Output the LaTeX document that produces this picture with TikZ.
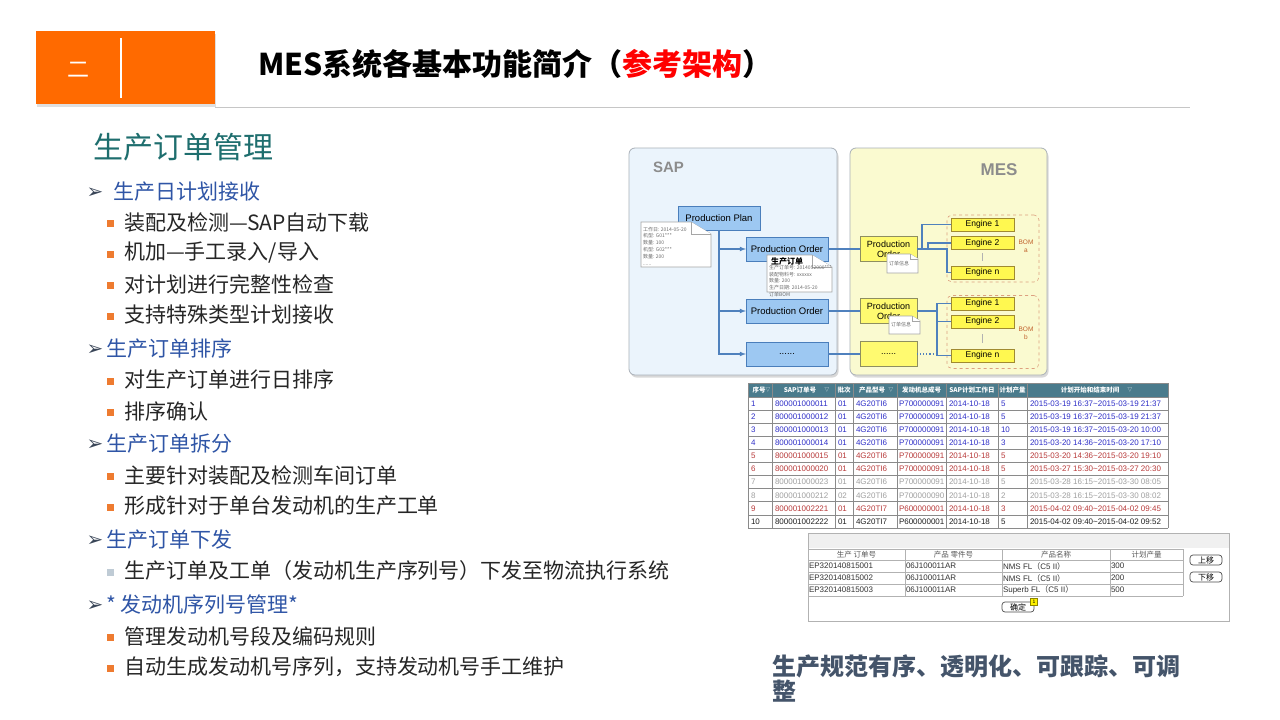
\documentclass[tikz,border=0pt]{standalone}
\usepackage{fontspec}
\setmainfont{Noto Sans CJK SC}
\newfontfamily\cjk{Noto Sans CJK SC}
\newfontfamily\arial{Liberation Sans}
\newfontfamily\dejavu{DejaVu Sans}
\usetikzlibrary{arrows,shapes,positioning,calc,shadows}

\newcommand\fsz[1]{\fontsize{#1}{#1}\selectfont}

\definecolor{hdorange}{HTML}{FF6A00}
\definecolor{titlered}{HTML}{FF0000}
\definecolor{secteal}{HTML}{1E6E6E}
\definecolor{listblue}{HTML}{2F55A6}
\definecolor{bodytxt}{HTML}{262626}
\definecolor{bulor}{HTML}{EE7B30}
\definecolor{bulgr}{HTML}{BFCBD5}
\definecolor{arrowdk}{HTML}{3A4658}
\definecolor{sapfill}{HTML}{EBF4FC}
\definecolor{mesfill}{HTML}{FAFAD0}
\definecolor{boxgray}{HTML}{A9B0B8}
\definecolor{pofill}{HTML}{9DC8F2}
\definecolor{poline}{HTML}{4A7EBB}
\definecolor{mpofill}{HTML}{FFFA70}
\definecolor{mpoline}{HTML}{8E8E60}
\definecolor{engfill}{HTML}{FFF850}
\definecolor{engline}{HTML}{A08A30}
\definecolor{bomline}{HTML}{DDA080}
\definecolor{bomtext}{HTML}{C0602A}
\definecolor{linkblue}{HTML}{4F81BD}
\definecolor{thead}{HTML}{4A7B8C}
\definecolor{tgrid}{HTML}{8A8A8A}
\definecolor{rowblue}{HTML}{3030C8}
\definecolor{rowred}{HTML}{B83A3A}
\definecolor{rowgray}{HTML}{A0A0A0}
\definecolor{rowblack}{HTML}{202020}
\definecolor{botslate}{HTML}{44546A}

\tikzset{
  every node/.style={inner sep=0pt, outer sep=0pt},
  heading/.style={anchor=west, text=listblue, font=\fsz{21}},
  item/.style={anchor=west, text=bodytxt, font=\fsz{21}},
  sqbul/.style={minimum width=7, minimum height=7},
  sapbg/.style={draw=boxgray, fill=sapfill, rounded corners=6, line width=0.8,
    drop shadow={shadow xshift=1.5pt, shadow yshift=-2.5pt, opacity=.3}},
  mesbg/.style={draw=boxgray, fill=mesfill, rounded corners=6, line width=0.8,
    drop shadow={shadow xshift=1.5pt, shadow yshift=-2.5pt, opacity=.3}},
  po/.style={draw=poline, fill=pofill, line width=0.7, minimum width=82, minimum height=24, font=\arial\fsz{9.5}},
  mpo/.style={draw=mpoline, fill=mpofill, line width=0.7, minimum width=57, minimum height=25, align=center, font=\arial\fontsize{9}{10}\selectfont},
  engine/.style={draw=engline, fill=engfill, line width=0.6, minimum width=63, minimum height=13, font=\arial\fsz{8.5}},
  bom/.style={draw=bomline, dashed, rounded corners=5, line width=0.6, minimum width=92},
  bomlbl/.style={text=bomtext, align=center, font=\arial\fontsize{6.5}{8}\selectfont},
  link/.style={draw=linkblue, line width=1.1},
  notedraw/.style={draw=gray!70, fill=white, line width=0.6},
  notetxt/.style={anchor=north west, align=left, text=gray!85!black, font=\fontsize{5}{6.8}\selectfont},
  tcell/.style={anchor=west, font=\arial\fsz{8}},
  thd/.style={text=white, font=\bfseries\fsz{6.5}},
  tmark/.style={text=thead!40, font=\dejavu\fsz{6}},
  t2hd/.style={text=gray!70!black, font=\fsz{7.5}},
  t2cell/.style={anchor=west, text=black!80, font=\arial\fsz{8}},
  btn/.style={draw=black!70, rounded corners=3, line width=0.7, minimum width=32, minimum height=10, font=\fsz{8}},
}

% folded paper note
\newcommand\docnote[5]{%
  \draw[notedraw] (#1,#2) -- ({#3-#5},#2) -- (#3,{#2+#5*0.6}) -- (#3,#4) -- (#1,#4) -- cycle;
  \draw[notedraw] ({#3-#5},#2) -- ({#3-#5},{#2+#5*0.6}) -- (#3,{#2+#5*0.6});}

\begin{document}
\begin{tikzpicture}[x=1pt,y=-1pt]
\useasboundingbox (0,0) rectangle (1280,720);
\fill[white] (0,0) rectangle (1280,720);

% header
\node[fill=hdorange, minimum width=179, minimum height=73, anchor=north west,
  drop shadow={shadow xshift=1pt, shadow yshift=-3pt, opacity=.25}] (tab) at (36,31) {};
\node[text=white, font=\fsz{22}] (tabnum) at (78,70) {二};
\draw[white, line width=2] (121,38) -- (121,98);
\node[anchor=west, font=\bfseries\fsz{30}] (title) at (258,64)
  {MES系统各基本功能简介（\textcolor{titlered}{参考架构}）};
\draw[gray!45, line width=1] (215,107) -- (1190,107);

\node[anchor=west, text=secteal, font=\fsz{30}] (sect) at (93,147) {生产订单管理};

% list
\foreach \y/\x/\t [count=\i] in {192/113/生产日计划接收, 349/106/生产订单排序,
    444/106/生产订单拆分, 540/106/生产订单下发, 605/106/{* 发动机序列号管理*}}{
  \node[text=arrowdk, font=\dejavu\fsz{20}] (a\i) at (95,\y+1) {➢};
  \node[heading] (h\i) at (\x,\y) {\t};
}
\foreach \y/\t/\c [count=\i] in {222/{装配及检测—SAP自动下载}/bulor, 253/{机加—手工录入/导入}/bulor,
    284/对计划进行完整性检查/bulor, 315/支持特殊类型计划接收/bulor,
    380/对生产订单进行日排序/bulor, 411/排序确认/bulor,
    475/主要针对装配及检测车间订单/bulor, 506/形成针对于单台发动机的生产工单/bulor,
    571/{生产订单及工单（发动机生产序列号）下发至物流执行系统}/bulgr,
    636/管理发动机号段及编码规则/bulor, 667/{自动生成发动机号序列，支持发动机号手工维护}/bulor}{
  \node[sqbul, fill=\c] (b\i) at (110.5,\y+1) {};
  \node[item] (t\i) at (124,\y) {\t};
}

% SAP / MES diagram
\node[sapbg, minimum width=208, minimum height=227, anchor=north west] (sap) at (629,148) {};
\node[anchor=west, text=gray!90, font=\arial\bfseries\fsz{15}] (saplbl) at (653,167) {SAP};
\node[mesbg, minimum width=197, minimum height=227, anchor=north west] (mes) at (850,148) {};
\node[text=gray!90, font=\arial\bfseries\fsz{17}] (meslbl) at (999,170) {MES};

\node[po] (plan) at (719,218) {Production Plan};
\node[po] (po1) at (787,249) {Production Order};
\node[po] (po2) at (787,311) {Production Order};
\node[po] (po3) at (787,354) {......};
\foreach \p in {po1,po2,po3}
  \draw[link,-latex] (plan.south) |- (\p.west);

\node[mpo] (mpo1) at (888.5,249) {Production\\Order};
\node[mpo] (mpo2) at (888.5,311) {Production\\Order};
\node[mpo] (mdots) at (888.5,354) {......};
\draw[link] (po1.east) -- (mpo1.west);
\draw[link] (po2.east) -- (mpo2.west);
\draw[link] (po3.east) -- (mdots.west);

\node[bom, minimum height=67] (boma) at (993,248.5) {};
\node[bom, minimum height=73] (bomb) at (993,332) {};
\node[engine] (ea1) at (982.5,224.5) {Engine 1};
\node[engine] (ea2) at (982.5,243) {Engine 2};
\node[engine] (ean) at (982.5,272.5) {Engine n};
\node[engine] (eb1) at (982.5,303.5) {Engine 1};
\node[engine] (eb2) at (982.5,321.5) {Engine 2};
\node[engine] (ebn) at (982.5,355.5) {Engine n};
\draw[gray!60, line width=0.6] (982,253) -- (982,261);
\draw[gray!60, line width=0.6] (982,334) -- (982,343);
\node[bomlbl] (bomalbl) at (1026,246) {BOM\\a};
\node[bomlbl] (bomblbl) at (1026,333) {BOM\\b};

\draw[link] (mpo1.east) -- ++(5,0) |- (ea1.west);
\draw[link] (mpo1.east) -- ++(11,0) |- (ea2.west);
\draw[link] (mpo1.east) -- ++(30,0) |- (ean.west);
\draw[link] (mpo2.east) -- ++(20,0) |- (eb1.west);
\draw[link] (mpo2.east) -- ++(20,0) |- (eb2.west);
\draw[link] (mpo2.east) -- ++(20,0) |- (ebn.west);
\draw[link, dotted] (mdots.east) -- ++(20,0);

% notes
\docnote{641}{222}{711}{267}{20}
\node[notetxt] (note1) at (643,227) {工作日: 2014-05-20\\机型: G01***\\数量: 100\\机型: G02***\\数量: 200\\......};
\docnote{767}{255}{832}{292}{20}
\node[font=\bfseries\fsz{8}] (note2hd) at (787,261) {生产订单};
\node[notetxt] (note2) at (769,265) {生产订单号: 2014052000***\\装配物料号: xxxxxx\\数量: 200\\生产日期: 2014-05-20\\订单BOM};
\docnote{887}{254}{918}{273}{8}
\node[notetxt] (note3) at (889,261) {订单信息};
\docnote{889}{316}{920}{334}{8}
\node[notetxt] (note4) at (891,322) {订单信息};

% order table
\fill[thead] (748,383) rectangle (1168,397);
\foreach \x in {748,772,835,853,897,946,998,1027,1168}
  \draw[tgrid, line width=0.8] (\x,383) -- (\x,528);
\foreach \k in {0,...,10}
  \draw[tgrid, line width=0.8] (748,{397+13.1*\k}) -- (1168,{397+13.1*\k});
\draw[tgrid, line width=0.8] (748,383) -- (1168,383);
\node[thd] (hd1) at (759,390) {序号};
\node[thd] (hd2) at (800,390) {SAP订单号};
\node[thd] (hd3) at (844,390) {批次};
\node[thd] (hd4) at (872,390) {产品型号};
\node[thd] (hd5) at (921.5,390) {发动机总成号};
\node[thd] (hd6) at (972,390) {SAP计划工作日};
\node[thd] (hd7) at (1012.5,390) {计划产量};
\node[thd] (hd8) at (1090,390) {计划开始和结束时间};
\node[tmark] (mk1) at (768,390) {▽};
\node[tmark] (mk2) at (827,390) {▽};
\node[tmark] (mk4) at (891,390) {▽};
\node[tmark] (mk8) at (1130,390) {▽};
\foreach \k/\sap/\lot/\typ/\eng/\qty/\ta/\tb/\c in {
  1/800001000011/01/4G20TI6/P700000091/5/2015-03-19 16:37/2015-03-19 21:37/rowblue,
  2/800001000012/01/4G20TI6/P700000091/5/2015-03-19 16:37/2015-03-19 21:37/rowblue,
  3/800001000013/01/4G20TI6/P700000091/10/2015-03-19 16:37/2015-03-20 10:00/rowblue,
  4/800001000014/01/4G20TI6/P700000091/3/2015-03-20 14:36/2015-03-20 17:10/rowblue,
  5/800001000015/01/4G20TI6/P700000091/5/2015-03-20 14:36/2015-03-20 19:10/rowred,
  6/800001000020/01/4G20TI6/P700000091/5/2015-03-27 15:30/2015-03-27 20:30/rowred,
  7/800001000023/01/4G20TI6/P700000091/5/2015-03-28 16:15/2015-03-30 08:05/rowgray,
  8/800001000212/02/4G20TI6/P700000090/2/2015-03-28 16:15/2015-03-30 08:02/rowgray,
  9/800001002221/01/4G20TI7/P600000001/3/2015-04-02 09:40/2015-04-02 09:45/rowred,
  10/800001002222/01/4G20TI7/P600000001/5/2015-04-02 09:40/2015-04-02 09:52/rowblack}{
  \pgfmathsetmacro\yy{390.45+13.1*\k}
  \node[tcell, text=\c] (r\k-1) at (751,\yy) {\k};
  \node[tcell, text=\c] (r\k-2) at (775,\yy) {\sap};
  \node[tcell, text=\c] (r\k-3) at (838,\yy) {\lot};
  \node[tcell, text=\c] (r\k-4) at (856,\yy) {\typ};
  \node[tcell, text=\c] (r\k-5) at (899,\yy) {\eng};
  \node[tcell, text=\c] (r\k-6) at (949,\yy) {2014-10-18};
  \node[tcell, text=\c] (r\k-7) at (1001,\yy) {\qty};
  \node[tcell, text=\c] (r\k-8) at (1030,\yy) {\ta\textasciitilde\tb};
}

% sequence dialog
\draw[gray!60, line width=0.8] (808,533) rectangle (1229,621);
\fill[gray!12] (808.5,533.5) rectangle (1228.5,548);
\foreach \x in {808,905,1002,1110,1183}
  \draw[gray!60, line width=0.7] (\x,549) -- (\x,596);
\foreach \y in {549,560,572,584,596}
  \draw[gray!60, line width=0.7] (808,\y) -- (1183,\y);
\node[t2hd] (c1) at (856.5,554.5) {生产 订单号};
\node[t2hd] (c2) at (953.5,554.5) {产品 零件号};
\node[t2hd] (c3) at (1056,554.5) {产品名称};
\node[t2hd] (c4) at (1146.5,554.5) {计划产量};
\foreach \k/\ord/\nm/\q in {1/EP320140815001/NMS FL/300,
    2/EP320140815002/NMS FL/200, 3/EP320140815003/Superb FL/500}{
  \pgfmathsetmacro\yy{554+12*\k}
  \node[t2cell] (s\k-1) at (809,\yy) {\ord};
  \node[t2cell] (s\k-2) at (906,\yy) {06J100011AR};
  \node[t2cell] (s\k-3) at (1003,\yy) {\nm{\cjk （}C5 II{\cjk ）}};
  \node[t2cell] (s\k-4) at (1111,\yy) {\q};
}
\node[btn] (up) at (1206,560) {上移};
\node[btn] (down) at (1206,577) {下移};
\node[btn] (ok) at (1018,607) {确定};
\node[draw=olive, fill=yellow, minimum width=7, minimum height=7, font=\arial\fsz{5}] (badge) at (1034,601.5) {1};

% motto
\node[anchor=north west, align=left, text=botslate, font=\bfseries\fontsize{24}{25}\selectfont] (motto) at (772,655)
  {生产规范有序、透明化、可跟踪、可调\\整};
\end{tikzpicture}
\end{document}
